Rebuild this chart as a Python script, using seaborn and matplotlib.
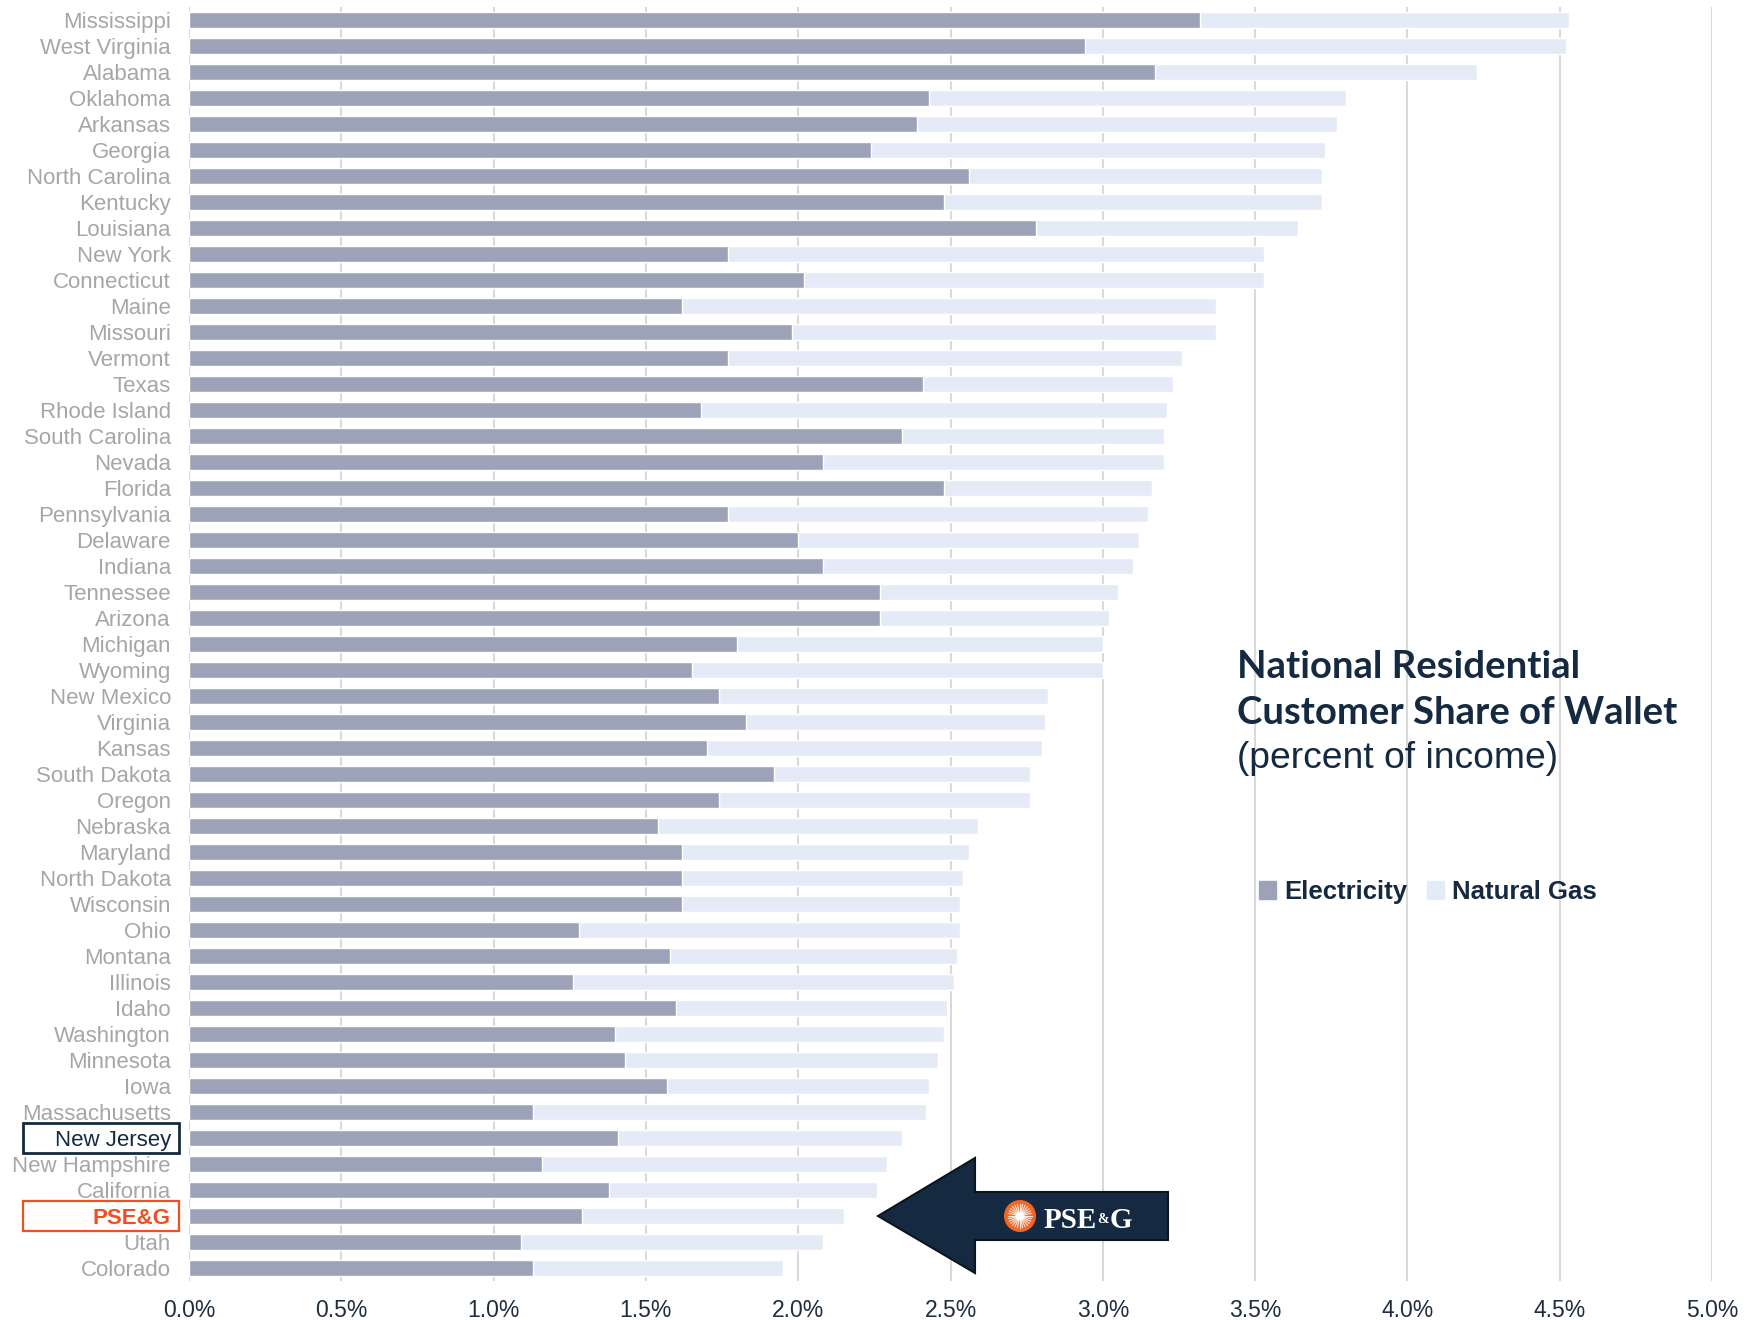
import numpy as np
import pandas as pd
import matplotlib
matplotlib.use('Agg')
from matplotlib import pyplot as plt
from matplotlib import patches, transforms
from matplotlib.ticker import PercentFormatter
import seaborn as sns

# values (percent of income)
states = ['Mississippi', 'West Virginia', 'Alabama', 'Oklahoma', 'Arkansas', 'Georgia',
          'North Carolina', 'Kentucky', 'Louisiana', 'New York', 'Connecticut', 'Maine',
          'Missouri', 'Vermont', 'Texas', 'Rhode Island', 'South Carolina', 'Nevada',
          'Florida', 'Pennsylvania', 'Delaware', 'Indiana', 'Tennessee', 'Arizona',
          'Michigan', 'Wyoming', 'New Mexico', 'Virginia', 'Kansas', 'South Dakota',
          'Oregon', 'Nebraska', 'Maryland', 'North Dakota', 'Wisconsin', 'Ohio',
          'Montana', 'Illinois', 'Idaho', 'Washington', 'Minnesota', 'Iowa',
          'Massachusetts', 'New Jersey', 'New Hampshire', 'California', 'PSE&G', 'Utah',
          'Colorado']
electricity = [3.32, 2.94, 3.17, 2.43, 2.39, 2.24, 2.56, 2.48, 2.78, 1.77, 2.02, 1.62,
               1.98, 1.77, 2.41, 1.68, 2.34, 2.08, 2.48, 1.77, 2.00, 2.08, 2.27, 2.27,
               1.80, 1.65, 1.74, 1.83, 1.70, 1.92, 1.74, 1.54, 1.62, 1.62, 1.62, 1.28,
               1.58, 1.26, 1.60, 1.40, 1.43, 1.57, 1.13, 1.41, 1.16, 1.38, 1.29, 1.09,
               1.13]
natural_gas = [1.21, 1.58, 1.06, 1.37, 1.38, 1.49, 1.16, 1.24, 0.86, 1.76, 1.51, 1.75,
               1.39, 1.49, 0.82, 1.53, 0.86, 1.12, 0.68, 1.38, 1.12, 1.02, 0.78, 0.75,
               1.20, 1.35, 1.08, 0.98, 1.10, 0.84, 1.02, 1.05, 0.94, 0.92, 0.91, 1.25,
               0.94, 1.25, 0.89, 1.08, 1.03, 0.86, 1.29, 0.93, 1.13, 0.88, 0.86, 0.99,
               0.82]
x_ticks = np.arange(0, 5.01, 0.5)

ELEC = '#9ca3b9'
GAS = '#e4ebf6'
NAVY = '#152a40'
ORANGE = '#f04e23'
LABEL_GRAY = '#a6a6a6'

W, H = 1747, 1320


def px(x, y):
    """pixel position (from top-left) -> figure fraction"""
    return x / W, 1 - y / H


df = pd.DataFrame({'State': states, 'Electricity': electricity, 'Natural Gas': natural_gas})
df['Total'] = df['Electricity'] + df['Natural Gas']

sns.set_style('white')
plt.rcParams['font.family'] = ['Liberation Sans', 'DejaVu Sans']

fig = plt.figure(figsize=(W / 100, H / 100), dpi=100)
ax = fig.add_axes([189 / W, 1 - 1281 / H, (1712 - 189) / W, (1281 - 7) / H])

# stacked bars: total first (gas colour), electricity on top
sns.barplot(data=df, x='Total', y='State', color=GAS, saturation=1, width=0.6, ax=ax, orient='h')
sns.barplot(data=df, x='Electricity', y='State', color=ELEC, saturation=1, width=0.6, ax=ax, orient='h')

ax.set_xlim(0, 5)
ax.set_xticks(x_ticks)
ax.xaxis.set_major_formatter(PercentFormatter(xmax=100, decimals=1))
ax.xaxis.grid(True, color='#d9d9d9', lw=1.5)
ax.set_axisbelow(True)
for s in ax.spines.values():
    s.set_visible(False)
ax.set_xlabel('')
ax.set_ylabel('')
ax.tick_params(axis='x', length=0, pad=13, labelsize=16.5, labelcolor='#1f2d3d')
ax.tick_params(axis='y', length=0, pad=13, labelsize=16, labelcolor=LABEL_GRAY)

# highlight New Jersey and PSE&G
box_tf = transforms.blended_transform_factory(fig.transFigure, ax.transData)
for lab in ax.get_yticklabels():
    name = lab.get_text()
    if name == 'New Jersey':
        lab.set_color(NAVY)
        i = states.index(name)
        fig.add_artist(patches.Rectangle((23 / W, i - 0.56), 156 / W, 1.12, transform=box_tf,
                                         fill=False, edgecolor=NAVY, lw=2))
    elif name == 'PSE&G':
        lab.set_color(ORANGE)
        lab.set_fontweight('bold')
        i = states.index(name)
        fig.add_artist(patches.Rectangle((23 / W, i - 0.56), 156 / W, 1.12, transform=box_tf,
                                         fill=False, edgecolor=ORANGE, lw=1.6))

# title block
fig.text(*px(1237, 667), 'National Residential', fontsize=27.5, fontweight='bold',
         family='Lato', color=NAVY, va='center', ha='left')
fig.text(*px(1237, 713), 'Customer Share of Wallet', fontsize=27.5, fontweight='bold',
         family='Lato', color=NAVY, va='center', ha='left')
fig.text(*px(1237, 758), '(percent of income)', fontsize=26.8, color=NAVY, va='center', ha='left')

# legend
handles = [patches.Patch(color=ELEC, label='Electricity'),
           patches.Patch(color=GAS, label='Natural Gas')]
fig.legend(handles=handles, loc='center left', bbox_to_anchor=px(1259, 892), ncol=2,
           frameon=False, handlelength=0.68, handleheight=0.68, handletextpad=0.3,
           columnspacing=0.75, prop={'size': 18.5, 'weight': 'bold'}, labelcolor=NAVY,
           borderpad=0, borderaxespad=0)

# arrow pointing at the PSE&G row
arrow_pts = [(878, 1216), (975, 1158), (975, 1192), (1168, 1192),
             (1168, 1240), (975, 1240), (975, 1273)]
fig.add_artist(patches.Polygon([px(x, y) for x, y in arrow_pts], closed=True,
                               facecolor=NAVY, edgecolor='#0b1520', lw=1.5,
                               transform=fig.transFigure))

# PSEG logo: orange sun + wordmark
cx, cy = px(1020, 1216)
fig.add_artist(patches.Ellipse((cx, cy), 32 / W, 32 / H, facecolor='#f26522',
                               edgecolor='none', transform=fig.transFigure))
for a in np.linspace(0, 2 * np.pi, 28, endpoint=False):
    fig.add_artist(plt.Line2D([cx, cx + 12 * np.cos(a) / W], [cy, cy + 12 * np.sin(a) / H],
                              color='white', lw=0.8, alpha=0.85, transform=fig.transFigure))
fig.add_artist(patches.Ellipse((cx, cy), 9 / W, 9 / H, facecolor='white',
                               edgecolor='none', transform=fig.transFigure))

# wordmark pieces laid side by side (no overlap)
renderer = fig.canvas.get_renderer()
logo_font = dict(family='Liberation Serif', fontweight='bold', color='white', va='baseline')
x0, ybase = px(1044, 1228)
t1 = fig.text(x0, ybase, 'PSE', fontsize=21, ha='left', **logo_font)
x1 = fig.transFigure.inverted().transform(t1.get_window_extent(renderer))[1, 0]
t2 = fig.text(x1 + 0.3 / W, ybase + 5 / H, '&', fontsize=10, ha='left', **logo_font)
x2 = fig.transFigure.inverted().transform(t2.get_window_extent(renderer))[1, 0]
fig.text(x2 + 0.3 / W, ybase, 'G', fontsize=21, ha='left', **logo_font)

fig.savefig('out.png', dpi=100)
